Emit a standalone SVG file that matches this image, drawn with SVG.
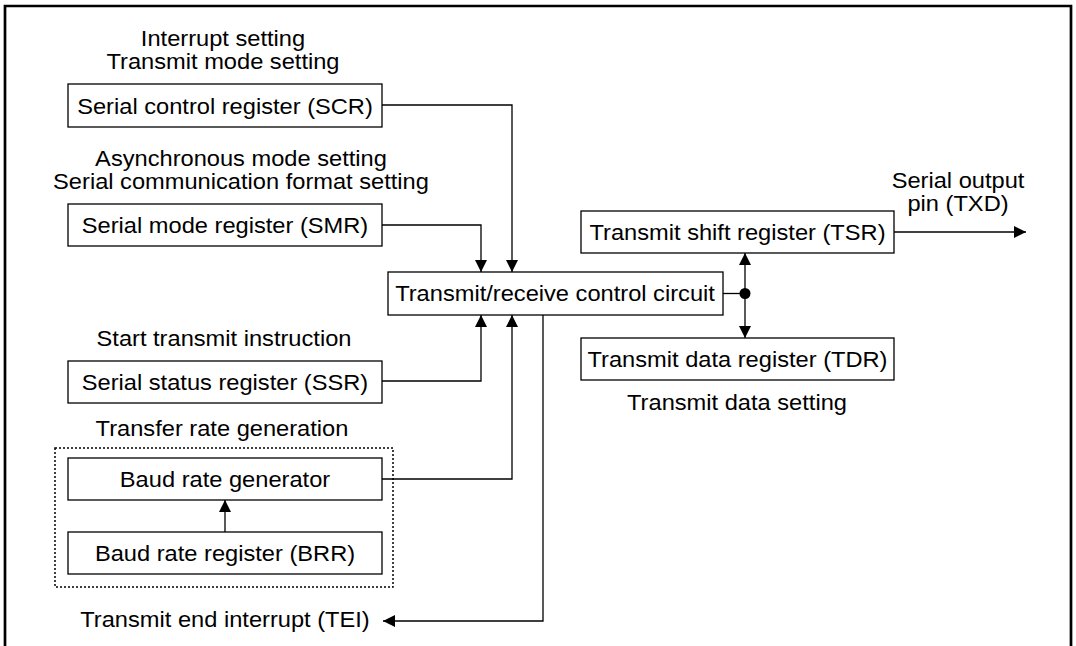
<svg xmlns="http://www.w3.org/2000/svg" width="1076" height="646" viewBox="0 0 1076 646">
<style>
  .box { fill: #fff; stroke: #000; stroke-width: 1.3; }
  .dotted { fill: none; stroke: #000; stroke-width: 1.5; stroke-dasharray: 2 2; }
  .t { font-family: "Liberation Sans", Arial, sans-serif; font-size: 21.5px; fill: #000; text-anchor: middle; }
  .wire { fill: none; stroke: #000; stroke-width: 1.3; }
  .arr { marker-end: url(#ah); }
</style>
<defs>
  <marker id="ah" markerWidth="12" markerHeight="12" refX="12" refY="6" orient="auto" markerUnits="userSpaceOnUse">
    <path d="M0,0 L12,6 L0,12 z" fill="#000"/>
  </marker>
</defs>
<rect x="0" y="0" width="1076" height="646" fill="#fff"/>
<path d="M5,646 V6 H1071 V646" fill="none" stroke="#000" stroke-width="2.7"/>

<g id="labels">
  <text class="t" transform="translate(223,46) scale(1.1,1)">Interrupt setting</text>
  <text class="t" transform="translate(223,69) scale(1.1,1)">Transmit mode setting</text>
  <text class="t" transform="translate(241,166) scale(1.1,1)">Asynchronous mode setting</text>
  <text class="t" transform="translate(241,189) scale(1.1,1)">Serial communication format setting</text>
  <text class="t" transform="translate(224,346) scale(1.1,1)">Start transmit instruction</text>
  <text class="t" transform="translate(222,436) scale(1.1,1)">Transfer rate generation</text>
  <text class="t" transform="translate(225,627) scale(1.1,1)">Transmit end interrupt (TEI)</text>
  <text class="t" transform="translate(958,188) scale(1.1,1)">Serial output</text>
  <text class="t" transform="translate(958,211) scale(1.1,1)">pin (TXD)</text>
  <text class="t" transform="translate(737,410) scale(1.1,1)">Transmit data setting</text>
</g>

<g id="group-baud">
  <rect class="dotted" x="55" y="448" width="338" height="139"/>
</g>

<g id="scr">
  <rect class="box" x="68" y="84" width="314" height="43"/>
  <text class="t" transform="translate(225,113.5) scale(1.1,1)">Serial control register (SCR)</text>
</g>
<g id="smr">
  <rect class="box" x="68" y="204" width="314" height="42"/>
  <text class="t" transform="translate(225,232.5) scale(1.1,1)">Serial mode register (SMR)</text>
</g>
<g id="ssr">
  <rect class="box" x="68" y="361" width="314" height="42"/>
  <text class="t" transform="translate(225,389.5) scale(1.1,1)">Serial status register (SSR)</text>
</g>
<g id="brg">
  <rect class="box" x="68" y="458" width="314" height="42"/>
  <text class="t" transform="translate(225,486.5) scale(1.1,1)">Baud rate generator</text>
</g>
<g id="brr">
  <rect class="box" x="68" y="532" width="314" height="42"/>
  <text class="t" transform="translate(225,560.5) scale(1.1,1)">Baud rate register (BRR)</text>
</g>
<g id="control">
  <rect class="box" x="388" y="272" width="335" height="43"/>
  <text class="t" transform="translate(555,301) scale(1.1,1)">Transmit/receive control circuit</text>
</g>
<g id="tsr">
  <rect class="box" x="581" y="211" width="313" height="42"/>
  <text class="t" transform="translate(737.5,239.5) scale(1.1,1)">Transmit shift register (TSR)</text>
</g>
<g id="tdr">
  <rect class="box" x="581" y="338" width="313" height="42"/>
  <text class="t" transform="translate(737.5,366.5) scale(1.1,1)">Transmit data register (TDR)</text>
</g>

<g id="connectors">
  <path class="wire arr" d="M382,105 H512 V272"/>
  <path class="wire arr" d="M382,225 H481 V272"/>
  <path class="wire arr" d="M382,381 H481 V315"/>
  <path class="wire arr" d="M382,479 H512 V315"/>
  <path class="wire arr" d="M543,315 V621 H383"/>
  <path class="wire arr" d="M225,532 V500"/>
  <path class="wire" d="M723,293.5 H745"/>
  <path class="wire arr" d="M745,293.5 V253"/>
  <path class="wire arr" d="M745,293.5 V338"/>
  <path class="wire arr" d="M894,232 H1026"/>
  <circle cx="745" cy="293.5" r="5.5" fill="#000"/>
</g>
</svg>
